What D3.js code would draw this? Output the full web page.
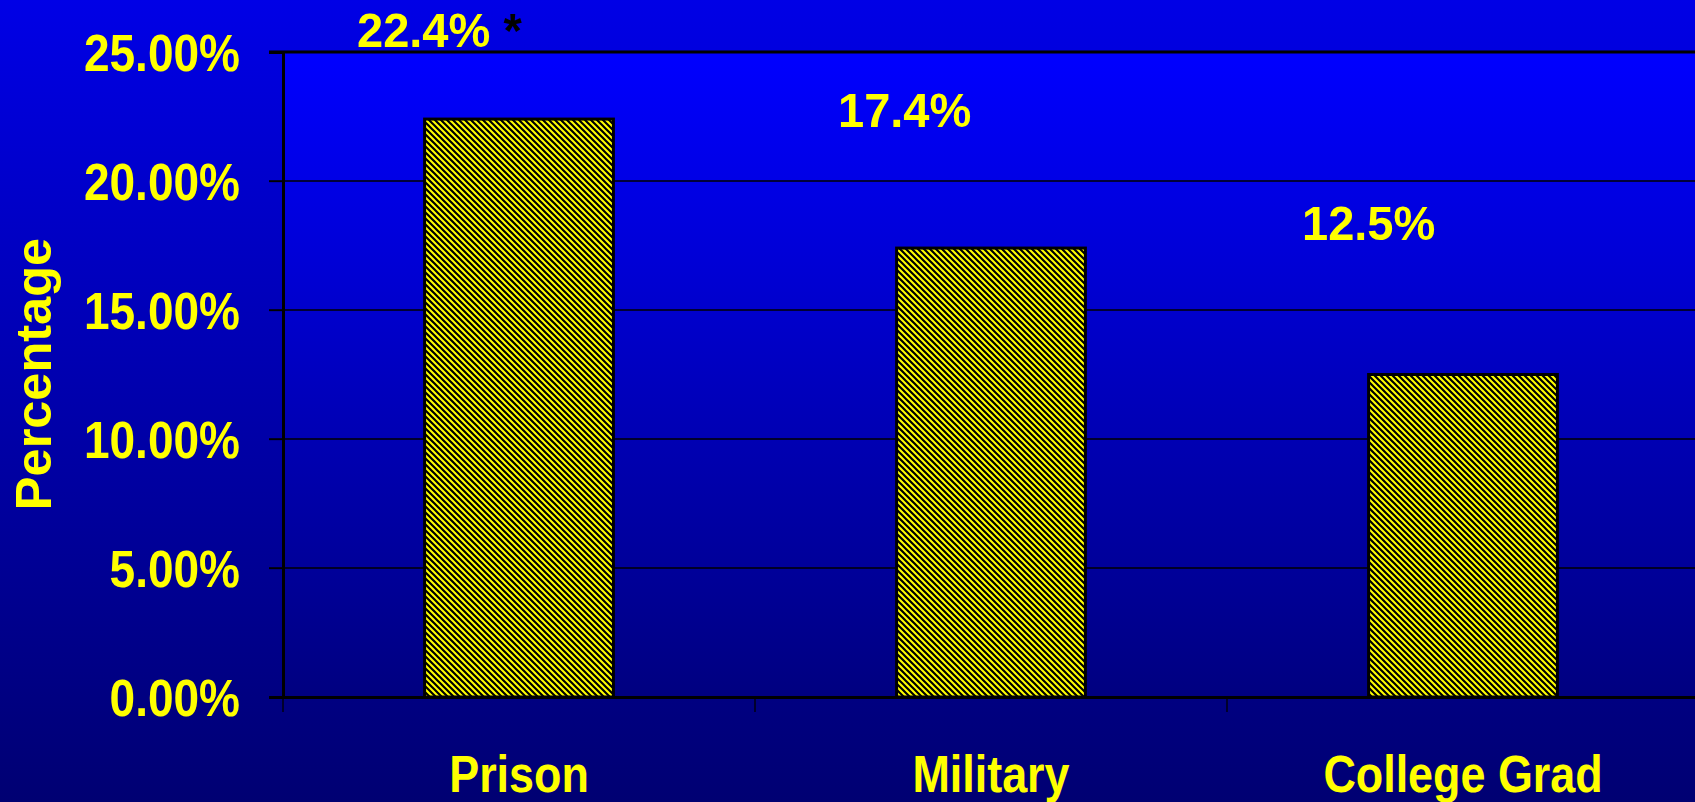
<!DOCTYPE html>
<html>
<head>
<meta charset="utf-8">
<script src="https://cdn.jsdelivr.net/npm/d3@7"></script>
<style>
  html, body { margin: 0; padding: 0; background: #000080; overflow: hidden; }
  text { font-family: "Liberation Sans", Arial, sans-serif; font-weight: bold; }
</style>
</head>
<body>
<div id="chart"></div>
<script>
// Data
const categories = ["Prison", "Military", "College Grad"];
const values = [22.4, 17.4, 12.5];
const valueLabels = ["22.4%", "17.4%", "12.5%"];
const yTicks = [0, 5, 10, 15, 20, 25];

const W = 1695, H = 802;
const margin = { top: 52, right: -4, bottom: 105, left: 283 };
const width = W - margin.left - margin.right;
const height = H - margin.top - margin.bottom;

const svg = d3.select("#chart")
    .append("svg")
    .attr("width", W)
    .attr("height", H);

const defs = svg.append("defs");

// slide background
const bgGrad = defs.append("linearGradient")
    .attr("id", "bg").attr("x1", 0).attr("y1", 0).attr("x2", 0).attr("y2", 1);
bgGrad.append("stop").attr("offset", "0%").attr("stop-color", "#0000e6");
bgGrad.append("stop").attr("offset", "100%").attr("stop-color", "#000072");

// plot area background
const plotGrad = defs.append("linearGradient")
    .attr("id", "plotbg").attr("x1", 0).attr("y1", 0).attr("x2", 0).attr("y2", 1);
plotGrad.append("stop").attr("offset", "0%").attr("stop-color", "#0000ff");
plotGrad.append("stop").attr("offset", "100%").attr("stop-color", "#000080");

// diagonal hatch for the bars
const hatch = defs.append("pattern")
    .attr("id", "hatch")
    .attr("patternUnits", "userSpaceOnUse")
    .attr("width", 6).attr("height", 6);
hatch.append("rect").attr("width", 6).attr("height", 6).attr("fill", "#ffff00");
hatch.append("path")
    .attr("d", "M-1,-1L7,7M-1,5L1,7M5,-1L7,1")
    .attr("stroke", "#000")
    .attr("stroke-width", 2.2);

svg.append("rect").attr("width", W).attr("height", H).attr("fill", "url(#bg)");

const g = svg.append("g")
    .attr("transform", `translate(${margin.left},${margin.top})`);

g.append("rect")
    .attr("width", width).attr("height", height)
    .attr("fill", "url(#plotbg)");

// scales
const x = d3.scaleBand()
    .domain(categories)
    .range([0, width])
    .paddingInner(0.6)
    .paddingOuter(0.3);

const y = d3.scaleLinear()
    .domain([0, 25])
    .range([height, 0]);

// gridlines
g.append("g")
    .selectAll("line")
    .data(yTicks.filter(d => d > 0))
    .enter()
    .append("line")
    .attr("x1", -14)
    .attr("x2", width)
    .attr("y1", d => y(d))
    .attr("y2", d => y(d))
    .attr("stroke", "#000")
    .attr("stroke-width", d => d === 25 ? 3 : 1.3);

// Y axis
const yAxis = g.append("g")
    .call(d3.axisLeft(y).tickValues(yTicks).tickSize(14).tickPadding(0)
        .tickFormat(d => d.toFixed(2) + "%"));
yAxis.select(".domain").attr("stroke", "#000").attr("stroke-width", 3);
yAxis.selectAll(".tick line").attr("stroke", "#000").attr("stroke-width", 1.3);
yAxis.selectAll(".tick text")
    .attr("fill", "#ffff00")
    .attr("font-size", 52)
    .attr("x", -43 / 0.885)
    .attr("dy", "0.36em")
    .attr("transform", "scale(0.885,1)");

// X axis
const xAxis = g.append("g")
    .attr("transform", `translate(0,${height})`)
    .call(d3.axisBottom(x).tickSize(0).tickPadding(0));
xAxis.select(".domain").attr("stroke", "#000").attr("stroke-width", 3);
xAxis.selectAll(".tick text")
    .attr("fill", "#ffff00")
    .attr("font-size", 51)
    .attr("y", 95)
    .attr("dy", 0)
    .attr("transform", "scale(0.88,1)");

// category separator ticks
g.append("g")
    .selectAll("line")
    .data(d3.range(categories.length + 1))
    .enter()
    .append("line")
    .attr("x1", i => i * width / categories.length)
    .attr("x2", i => i * width / categories.length)
    .attr("y1", height)
    .attr("y2", height + 15)
    .attr("stroke", "#000")
    .attr("stroke-width", 1.3);

// bars
g.selectAll(".bar")
    .data(values)
    .enter()
    .append("rect")
    .attr("class", "bar")
    .attr("x", (d, i) => x(categories[i]))
    .attr("width", x.bandwidth())
    .attr("y", d => y(d))
    .attr("height", d => height - y(d))
    .attr("fill", "url(#hatch)")
    .attr("stroke", "#000")
    .attr("stroke-width", 3);

// value labels (placed by hand on the slide)
const labelLift = [72, 121, 135];
const labelShift = [-162, -153, -161];
const labels = g.selectAll(".vlabel")
    .data(values)
    .enter()
    .append("text")
    .attr("class", "vlabel")
    .attr("font-size", 49)
    .attr("fill", "#ffff00")
    .attr("transform", (d, i) =>
        `translate(${x(categories[i]) + x.bandwidth() / 2 + labelShift[i]},${y(d) - labelLift[i]}) scale(0.96,1)`)
    .text((d, i) => valueLabels[i]);

labels.filter((d, i) => i === 0)
    .append("tspan")
    .attr("fill", "#000")
    .text(" *");

// Y axis title
svg.append("text")
    .attr("transform", "translate(51,374) rotate(-90)")
    .attr("text-anchor", "middle")
    .attr("font-size", 50.5)
    .attr("fill", "#ffff00")
    .text("Percentage");
</script>
</body>
</html>
